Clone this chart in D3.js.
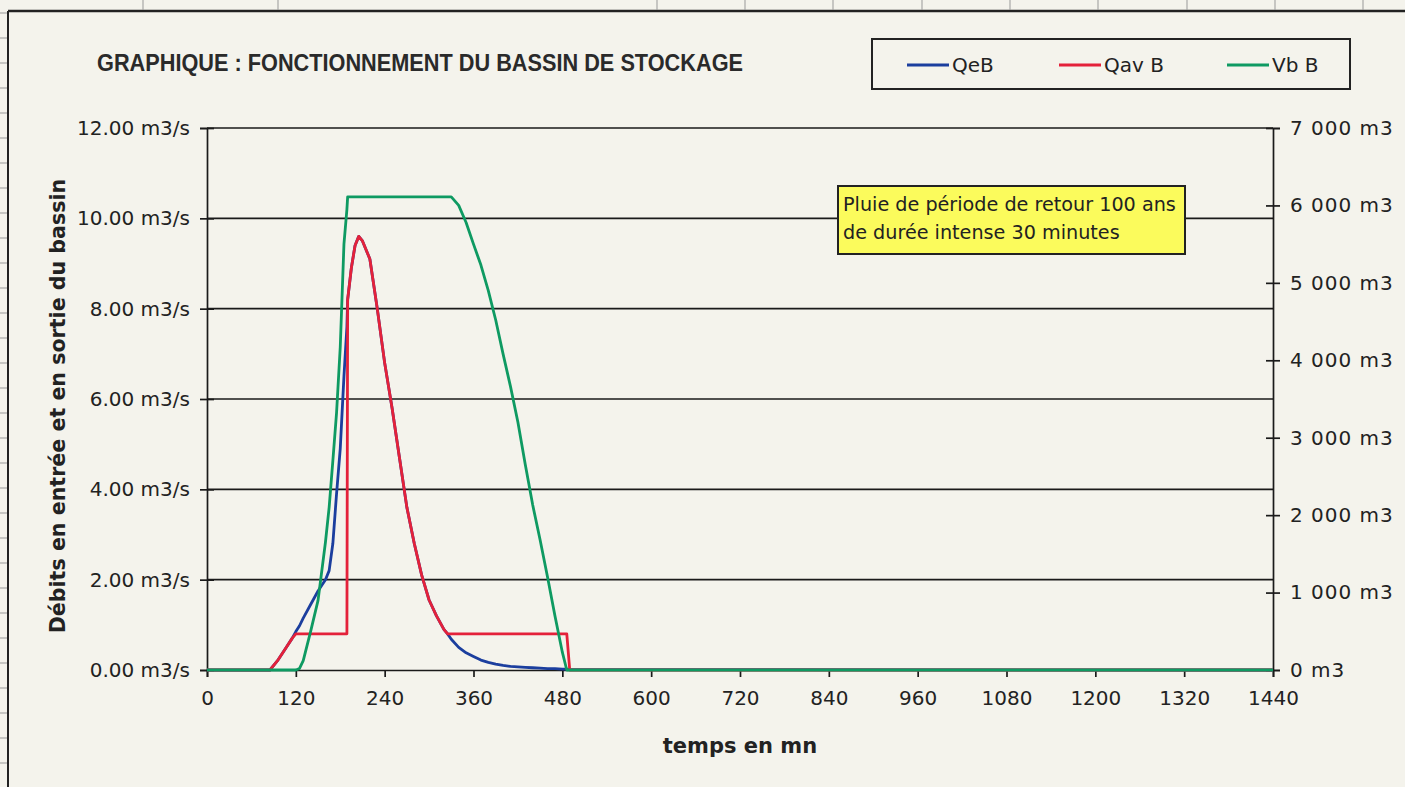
<!DOCTYPE html>
<html>
<head>
<meta charset="utf-8">
<script src="https://cdn.jsdelivr.net/npm/d3@7"></script>
<style>
  body { margin: 0; background: #f4f3ec; }
  svg { display: block; font-family: "DejaVu Sans", "Liberation Sans", Arial, sans-serif; }
</style>
</head>
<body>
<div id="chart"></div>
<script>
// time in minutes
var temps = [0, 85, 95, 105, 115, 120, 125, 130, 140, 150, 160, 165, 170, 175, 180, 185, 189, 190, 195, 200, 205, 210, 220, 230, 240, 250, 260, 270, 280, 290, 300, 310, 320, 325, 330, 340, 350, 360, 370, 380, 390, 400, 410, 420, 430, 440, 450, 460, 470, 480, 486, 490, 500, 1440];

// inflow (m3/s)
var qeB = [0, 0, 0.2, 0.45, 0.7, 0.85, 0.98, 1.15, 1.45, 1.75, 2.0, 2.2, 2.8, 3.9, 4.9, 6.5, 7.6, 8.2, 8.9, 9.4, 9.6, 9.5, 9.1, 8.0, 6.8, 5.8, 4.7, 3.6, 2.8, 2.1, 1.55, 1.2, 0.9, 0.8, 0.68, 0.5, 0.38, 0.3, 0.22, 0.17, 0.13, 0.1, 0.08, 0.07, 0.06, 0.05, 0.04, 0.03, 0.03, 0.02, 0.02, 0.01, 0.01, 0];

// outflow (m3/s)
var qavB = [0, 0, 0.2, 0.45, 0.7, 0.8, 0.8, 0.8, 0.8, 0.8, 0.8, 0.8, 0.8, 0.8, 0.8, 0.8, 0.8, 8.2, 8.9, 9.4, 9.6, 9.5, 9.1, 8.0, 6.8, 5.8, 4.7, 3.6, 2.8, 2.1, 1.55, 1.2, 0.9, 0.8, 0.8, 0.8, 0.8, 0.8, 0.8, 0.8, 0.8, 0.8, 0.8, 0.8, 0.8, 0.8, 0.8, 0.8, 0.8, 0.8, 0.8, 0, 0, 0];

// stored volume (m3)
var vbB = [0, 0, 0, 0, 0, 0, 20, 120, 500, 900, 1650, 2100, 2700, 3320, 4170, 5500, 5950, 6110, 6110, 6110, 6110, 6110, 6110, 6110, 6110, 6110, 6110, 6110, 6110, 6110, 6110, 6110, 6110, 6110, 6110, 6000, 5780, 5500, 5230, 4900, 4520, 4080, 3660, 3200, 2650, 2130, 1680, 1200, 700, 230, 0, 0, 0, 0];

var xTicks = d3.range(0, 1441, 120);
var yTicks = [0, 2, 4, 6, 8, 10, 12];
var y2Ticks = [0, 1000, 2000, 3000, 4000, 5000, 6000, 7000];

var W = 1405, H = 787;
var margin = {top: 128, right: 132, bottom: 117, left: 207},
    width = W - margin.left - margin.right,
    height = H - margin.top - margin.bottom;

var svg = d3.select("#chart")
    .append("svg")
    .attr("width", W)
    .attr("height", H);

svg.append("rect").attr("width", W).attr("height", H).attr("fill", "#f4f3ec");

// spreadsheet frame around the chart object
svg.append("line").attr("x1", 8).attr("x2", W).attr("y1", 11).attr("y2", 11)
    .attr("stroke", "#222").attr("stroke-width", 2.5);
svg.append("line").attr("x1", 8).attr("x2", 8).attr("y1", 11).attr("y2", H)
    .attr("stroke", "#222").attr("stroke-width", 2);
[143, 278, 657, 745, 833, 922, 1010, 1098, 1187, 1275, 1363].forEach(function(c) {
    svg.append("line").attr("x1", c).attr("x2", c).attr("y1", 0).attr("y2", 10)
        .attr("stroke", "#999").attr("stroke-width", 1);
});
d3.range(13, H, 25).forEach(function(r) {
    svg.append("line").attr("x1", 0).attr("x2", 7).attr("y1", r).attr("y2", r)
        .attr("stroke", "#999").attr("stroke-width", 1);
});

var g = svg.append("g")
    .attr("transform", "translate(" + margin.left + "," + margin.top + ")");

var x = d3.scaleLinear().domain([0, 1440]).range([0, width]);
var y = d3.scaleLinear().domain([0, 12]).range([height, 0]);
var y2 = d3.scaleLinear().domain([0, 7000]).range([height, 0]);

var fr = d3.formatLocale({decimal: ",", thousands: " ", grouping: [3], currency: ["", " €"]});

// gridlines
g.selectAll(".grid")
    .data(yTicks.slice(1))
    .enter().append("line")
    .attr("x1", 0).attr("x2", width)
    .attr("y1", function(d) { return y(d); })
    .attr("y2", function(d) { return y(d); })
    .attr("stroke", "#1a1a1a").attr("stroke-width", 1.7);

// axes
var xAxis = g.append("g")
    .attr("transform", "translate(0," + height + ")")
    .call(d3.axisBottom(x).tickValues(xTicks).tickSize(7).tickPadding(14)
        .tickFormat(d3.format("d")));
var yAxis = g.append("g")
    .call(d3.axisLeft(y).tickValues(yTicks).tickSize(7).tickPadding(10)
        .tickFormat(function(d) { return d3.format(".2f")(d) + " m3/s"; }));
var y2Axis = g.append("g")
    .attr("transform", "translate(" + width + ",0)")
    .call(d3.axisRight(y2).tickValues(y2Ticks).tickSize(7).tickPadding(10)
        .tickFormat(function(d) { return fr.format(",")(d) + " m3"; }));

[xAxis, yAxis, y2Axis].forEach(function(a) {
    a.select(".domain").attr("stroke", "#1a1a1a").attr("stroke-width", 1.7);
    a.selectAll(".tick line").attr("stroke", "#1a1a1a").attr("stroke-width", 1.7);
    a.selectAll("text")
        .attr("font-family", "'DejaVu Sans', sans-serif")
        .attr("font-size", 20).attr("fill", "#222");
});
y2Axis.selectAll("text").attr("letter-spacing", 1);
// ticks crossing the vertical axes
yAxis.selectAll(".tick line").attr("x1", 7);
y2Axis.selectAll(".tick line").attr("x1", -7);

// series
var series = [
    {name: "QeB", values: qeB, color: "#1b3e9e", scale: y},
    {name: "Qav B", values: qavB, color: "#e4213a", scale: y},
    {name: "Vb B", values: vbB, color: "#0e9a62", scale: y2}
];

series.forEach(function(s) {
    var line = d3.line()
        .x(function(d, i) { return x(temps[i]); })
        .y(function(d) { return s.scale(d); });
    g.append("path")
        .datum(s.values)
        .attr("d", line)
        .attr("fill", "none")
        .attr("stroke", s.color)
        .attr("stroke-width", 2.8)
        .attr("stroke-linejoin", "round");
});

// title
svg.append("text")
    .attr("x", 97).attr("y", 71)
    .attr("font-family", "'Liberation Sans Narrow', 'Arial Narrow', 'Liberation Sans', sans-serif")
    .attr("font-weight", "bold")
    .attr("font-size", 23)
    .attr("textLength", 646)
    .attr("lengthAdjust", "spacingAndGlyphs")
    .attr("fill", "#2a2a2a")
    .text("GRAPHIQUE : FONCTIONNEMENT DU BASSIN DE STOCKAGE");

// axis titles
svg.append("text")
    .attr("x", 740).attr("y", 753)
    .attr("text-anchor", "middle")
    .attr("font-weight", "bold").attr("font-size", 21).attr("fill", "#222")
    .text("temps en mn");

svg.append("text")
    .attr("transform", "translate(65,406) rotate(-90)")
    .attr("text-anchor", "middle")
    .attr("font-weight", "bold").attr("font-size", 20.6).attr("fill", "#222")
    .text("Débits en entrée et en sortie du bassin");

// legend
var legend = svg.append("g");
legend.append("rect")
    .attr("x", 872).attr("y", 39).attr("width", 478).attr("height", 50)
    .attr("fill", "none").attr("stroke", "#222").attr("stroke-width", 2);
var legX = [907, 1059, 1227];
series.forEach(function(s, i) {
    legend.append("line")
        .attr("x1", legX[i]).attr("x2", legX[i] + 42)
        .attr("y1", 65).attr("y2", 65)
        .attr("stroke", s.color).attr("stroke-width", 2.8);
    legend.append("text")
        .attr("x", legX[i] + 45).attr("y", 72)
        .attr("font-size", 20).attr("fill", "#222")
        .text(s.name);
});

// annotation
svg.append("rect")
    .attr("x", 838).attr("y", 186).attr("width", 347).attr("height", 68)
    .attr("fill", "#fbfb5c").attr("stroke", "#222").attr("stroke-width", 2);
svg.append("text")
    .attr("x", 843).attr("y", 211)
    .attr("font-size", 19.2).attr("fill", "#222")
    .text("Pluie de période de retour 100 ans");
svg.append("text")
    .attr("x", 843).attr("y", 239)
    .attr("font-size", 19.2).attr("fill", "#222")
    .text("de durée intense 30 minutes");
</script>
</body>
</html>
